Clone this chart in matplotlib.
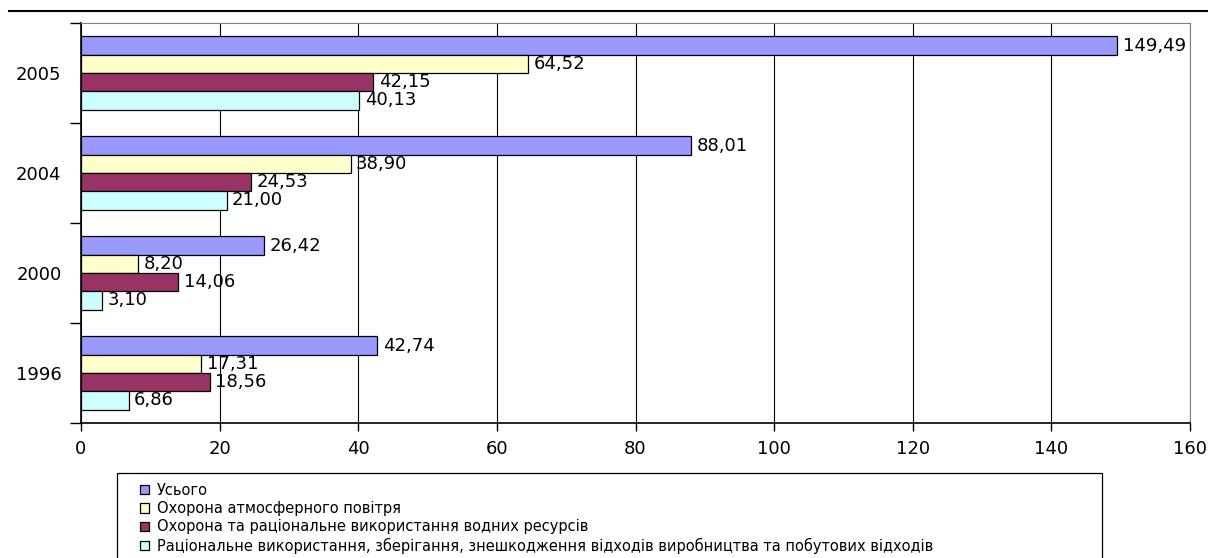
import matplotlib
matplotlib.use("Agg")
import matplotlib.pyplot as plt
import numpy as np
from matplotlib.patches import Rectangle
from matplotlib.lines import Line2D

years = ['1996', '2000', '2004', '2005']
series_names = [
    'Усього',
    'Охорона атмосферного повітря',
    'Охорона та раціональне використання водних ресурсів',
    'Раціональне використання, зберігання, знешкодження відходів виробництва та побутових відходів',
]
total = [42.74, 26.42, 88.01, 149.49]
air = [17.31, 8.20, 38.90, 64.52]
water = [18.56, 14.06, 24.53, 42.15]
waste = [6.86, 3.10, 21.00, 40.13]
xticks = [0, 20, 40, 60, 80, 100, 120, 140, 160]

colors = ['#9999FF', '#FFFFCC', '#993366', '#CCFFFF']

plt.rcParams['font.family'] = ['DejaVu Sans']

fig = plt.figure(figsize=(12.08, 5.58), dpi=100)
ax = fig.add_axes([81/1208, 1 - 423/558, (1190-81)/1208, 400/558])

h = 0.183
ypos = np.arange(len(years))
for k, vals in enumerate([total, air, water, waste]):
    bars = ax.barh(ypos + (1.5 - k) * h, vals, h, color=colors[k],
                   edgecolor='black', linewidth=0.9, label=series_names[k], zorder=3)
    ax.bar_label(bars, labels=[f'{v:.2f}'.replace('.', ',') for v in vals],
                 padding=4, fontsize=13, zorder=4)

ax.set_xlim(0, 160)
ax.set_ylim(-0.5, 3.5)
ax.set_xticks(xticks)
ax.set_xticklabels([str(t) for t in xticks], fontsize=13)
ax.tick_params(axis='x', direction='out', length=6, width=1, pad=6)

ax.set_yticks(ypos)
ax.set_yticklabels(years, fontsize=13)
ax.set_yticks(np.arange(-0.5, 3.6, 1), minor=True)
ax.tick_params(axis='y', which='major', length=0, pad=14)
ax.tick_params(axis='y', which='minor', direction='out', length=8, width=1)

ax.grid(axis='x', color='black', linewidth=0.8, zorder=1)
ax.set_axisbelow(True)
ax.spines[['top', 'right']].set_color('#808080')
ax.spines[['left', 'bottom']].set_color('black')
ax.spines[['left', 'bottom']].set_linewidth(1.2)

# rule line at top of page
fig.add_artist(Line2D([9/1208, 1], [1 - 11/558, 1 - 11/558], color='black', linewidth=1.5))

# legend frame (runs past bottom edge)
fig.add_artist(Rectangle((117/1208, -0.1), (1102-117)/1208, 1 - 473/558 + 0.1,
                         transform=fig.transFigure, fill=False, edgecolor='black',
                         linewidth=0.9))
handles, labels = ax.get_legend_handles_labels()
fig.legend(handles, labels, loc='upper left', bbox_to_anchor=(140/1208, 1 - 483/558),
           frameon=False, fontsize=10.5, labelspacing=0.22, handlelength=0.62,
           handleheight=0.6, handletextpad=0.55, borderpad=0, borderaxespad=0)

fig.savefig('out.png', dpi=100)
